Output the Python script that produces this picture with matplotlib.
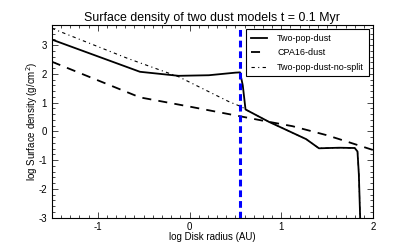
import numpy as np
import matplotlib
matplotlib.use("Agg")
import matplotlib.pyplot as plt
from matplotlib.ticker import MultipleLocator

plt.rcParams["font.family"] = ["Liberation Sans", "DejaVu Sans"]
plt.rcParams["axes.unicode_minus"] = False
plt.rcParams["xtick.direction"] = "in"
plt.rcParams["ytick.direction"] = "in"

# log r (AU), log sigma (g/cm^2)
two_pop_x = [-1.5, -0.54, -0.12, 0.21, 0.50, 0.55, 0.58, 0.61, 0.865, 1.27, 1.41, 1.63, 1.80, 1.83, 1.845, 1.86]
two_pop_y = [3.19, 2.07, 1.93, 1.95, 2.04, 2.05, 1.6, 0.76, 0.33, -0.27, -0.59, -0.57, -0.58, -0.7, -1.5, -3.1]

cpa_x = [-1.5, -0.54, 0.0, 0.54, 0.865, 1.12, 1.49, 1.63, 2.0]
cpa_y = [2.42, 1.18, 0.86, 0.53, 0.33, 0.18, -0.13, -0.27, -0.65]

nosplit_x = [-1.5, -0.67, -0.12, 0.43, 0.57, 0.61, 0.865, 1.27, 1.41, 1.63, 1.80, 1.83, 1.845, 1.86]
nosplit_y = [3.58, 2.53, 1.9, 1.03, 0.85, 0.76, 0.33, -0.27, -0.59, -0.57, -0.58, -0.7, -1.5, -3.1]

snow_line = 0.55

fig = plt.figure(figsize=(4.15, 2.49), dpi=100)
ax = fig.add_axes([0.125, 0.126, 0.774, 0.774])

ax.plot(two_pop_x, two_pop_y, color="black", lw=1.3, label="Two-pop-dust")
ax.plot(cpa_x, cpa_y, color="black", lw=1.3, dashes=(5, 4), label="CPA16-dust")
ax.plot(nosplit_x, nosplit_y, color="black", lw=0.8, dashes=(3, 3, 1, 3), label="Two-pop-dust-no-split")
ax.axvline(snow_line, color="blue", lw=2.2, dashes=(2.2, 1.3))

ax.set_xlim(-1.5, 2)
ax.set_ylim(-3, 3.7)
ax.xaxis.set_major_locator(MultipleLocator(1))
ax.xaxis.set_minor_locator(MultipleLocator(0.1))
ax.yaxis.set_major_locator(MultipleLocator(1))
ax.yaxis.set_minor_locator(MultipleLocator(0.2))
ax.tick_params(which="both", top=True, right=True, labelsize=7, width=0.5)
ax.tick_params(which="major", length=4)
ax.tick_params(which="minor", length=2)
for s in ax.spines.values():
    s.set_linewidth(0.8)

ax.set_xlabel("log Disk radius (AU)", fontsize=7, labelpad=0)
ax.set_ylabel("log Surface density (g/cm$^2$)", fontsize=7, labelpad=-1)
ax.set_title("Surface density of two dust models t = 0.1 Myr", fontsize=8.9, pad=3)

leg = ax.legend(loc="upper right", fontsize=6.5, fancybox=False, framealpha=1,
                edgecolor="black", handlelength=1.8, handletextpad=1.1,
                borderpad=0.5, labelspacing=0.6)
leg.get_frame().set_linewidth(0.8)

fig.savefig("out.png", dpi=100)
